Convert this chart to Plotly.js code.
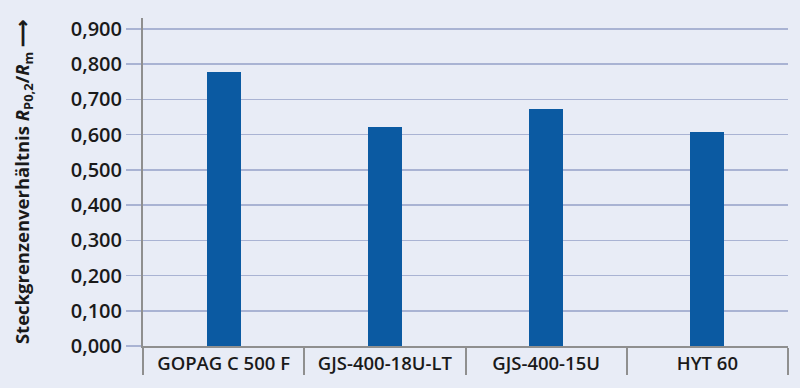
<!DOCTYPE html>
<html>
<head>
<meta charset="utf-8">
<script src="https://cdn.plot.ly/plotly-3.0.1.min.js"></script>
<style>html,body{margin:0;padding:0;background:#e8ecf6;}#chart{width:800px;height:388px;}</style>
</head>
<body>
<div id="chart"></div>
<script>
const categories = ["GOPAG C 500 F", "GJS-400-18U-LT", "GJS-400-15U", "HYT 60"];
const ratios = [0.778, 0.622, 0.673, 0.608];
const yTicks = [0, 0.1, 0.2, 0.3, 0.4, 0.5, 0.6, 0.7, 0.8, 0.9];

const trace = {
  type: "bar",
  x: categories,
  y: ratios,
  width: 0.21,
  marker: {color: "#0b5aa2", line: {width: 0}},
  hoverinfo: "x+y"
};

const layout = {
  width: 800, height: 388,
  paper_bgcolor: "#e8ecf6",
  plot_bgcolor: "#e8ecf6",
  margin: {l: 143, r: 12, t: 18, b: 42},
  font: {family: "Open Sans, Noto Sans, sans-serif", size: 19, color: "#1a1a1a", weight: 600},
  separators: ",.",
  showlegend: false,
  bargap: 0,
  xaxis: {
    type: "category",
    tickson: "boundaries",
    ticks: "outside",
    ticklen: 27,
    tickwidth: 2,
    tickcolor: "#8f8f8f",
    showgrid: false,
    showline: true,
    linecolor: "#8f8f8f",
    linewidth: 2,
    tickfont: {family: "Open Sans, sans-serif", size: 18.5, weight: 600, color: "#1a1a1a"},
    range: [-0.5, 3.5],
    fixedrange: true
  },
  yaxis: {
    range: [0, 0.931],
    tickvals: yTicks,
    tickformat: ".3f",
    ticks: "outside",
    ticklen: 15,
    tickwidth: 1.5,
    tickcolor: "#a9b3d3",
    showgrid: true,
    gridcolor: "#a9b3d3",
    gridwidth: 1.5,
    zeroline: false,
    showline: true,
    linecolor: "#8f8f8f",
    linewidth: 2,
    tickfont: {family: "Open Sans, sans-serif", size: 20, weight: 600, color: "#1a1a1a"},
    title: {
      text: "<b>Steckgrenzenverhältnis <i>R</i><sub>P0,2</sub>/<i>R</i><sub>m</sub> ⟶</b>",
      font: {family: "Open Sans, sans-serif", size: 18.5, weight: 600, color: "#1a1a1a"},
      standoff: 36
    },
    fixedrange: true
  }
};

Plotly.newPlot("chart", [trace], layout, {displayModeBar: false, staticPlot: true});
</script>
</body>
</html>
